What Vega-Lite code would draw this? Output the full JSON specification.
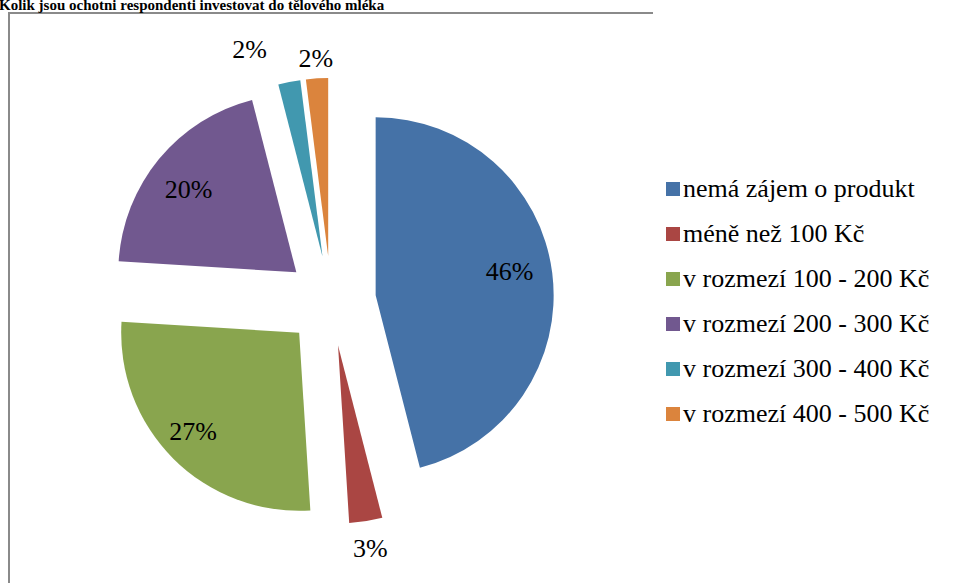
{
  "$schema": "https://vega.github.io/schema/vega-lite/v6.json",
  "width": 644,
  "height": 576,
  "autosize": {"type": "none"},
  "padding": {"left": 9, "top": 13, "right": 305, "bottom": 0},
  "background": "white",
  "view": {"stroke": "#8a8a8a", "strokeWidth": 2, "fill": null, "strokeDash": [644, 1220, 576]},
  "config": {
    "legend": {"labelFont": "Liberation Serif"}
  },
  "title": {
    "text": "Kolik jsou ochotni respondenti investovat do tělového mléka",
    "anchor": "start",
    "frame": "group",
    "orient": "top",
    "font": "Liberation Serif",
    "fontSize": 15,
    "fontWeight": "bold",
    "color": "black",
    "baseline": "alphabetic",
    "offset": 0,
    "dy": 12,
    "dx": -10
  },
  "data": {
    "values": [
      {"kategorie": "nemá zájem o produkt", "podil": 46, "poradi": 1},
      {"kategorie": "méně než 100 Kč", "podil": 3, "poradi": 2},
      {"kategorie": "v rozmezí 100 - 200 Kč", "podil": 27, "poradi": 3},
      {"kategorie": "v rozmezí 200 - 300  Kč", "podil": 20, "poradi": 4},
      {"kategorie": "v rozmezí 300 - 400 Kč", "podil": 2, "poradi": 5},
      {"kategorie": "v rozmezí 400 - 500 Kč", "podil": 2, "poradi": 6}
    ]
  },
  "encoding": {
    "theta": {"field": "podil", "type": "quantitative", "stack": true},
    "order": {"field": "poradi", "type": "quantitative"}
  },
  "layer": [
    {
      "mark": {
        "type": "arc",
        "radius": 178,
        "xOffset": {"expr": "45*sin((scale('theta', datum.podil_start) + scale('theta', datum.podil_end))/2)"},
        "yOffset": {"expr": "-45*cos((scale('theta', datum.podil_start) + scale('theta', datum.podil_end))/2)"}
      },
      "encoding": {
        "color": {
          "field": "kategorie",
          "type": "nominal",
          "scale": {
            "domain": ["nemá zájem o produkt", "méně než 100 Kč", "v rozmezí 100 - 200 Kč", "v rozmezí 200 - 300  Kč", "v rozmezí 300 - 400 Kč", "v rozmezí 400 - 500 Kč"],
            "range": ["#4572A7", "#AA4643", "#89A54E", "#71588F", "#4198AF", "#DB843D"]
          },
          "legend": {
            "title": null,
            "orient": "none",
            "legendX": 651,
            "legendY": 163,
            "symbolType": "square",
            "symbolSize": 196,
            "symbolStrokeWidth": 0,
            "labelFont": "Liberation Serif",
            "labelFontSize": 26,
            "labelColor": "black",
            "labelOffset": -3,
            "rowPadding": 19,
            "padding": 0,
            "labelLimit": 400
          }
        }
      }
    },
    {
      "mark": {
        "type": "text",
        "radius": {"expr": "datum.podil >= 10 ? 140 : (datum.poradi == 2 ? 206 : 197)"},
        "xOffset": {"expr": "45*sin((scale('theta', datum.podil_start) + scale('theta', datum.podil_end))/2)"},
        "yOffset": {"expr": "-45*cos((scale('theta', datum.podil_start) + scale('theta', datum.podil_end))/2)"},
        "dx": {"expr": "datum.poradi == 5 ? -36 : (datum.poradi == 3 ? -7 : (datum.poradi == 1 ? -5 : 0))"},
        "dy": {"expr": "datum.poradi == 5 ? -13 : (datum.poradi == 4 ? 7 : (datum.poradi == 1 ? -6 : 0))"},
        "font": "Liberation Serif",
        "fontSize": 26,
        "color": "black",
        "text": {"expr": "datum.podil + '%'"}
      },
      "encoding": {
        "detail": {"field": "kategorie", "type": "nominal"}
      }
    }
  ]
}
